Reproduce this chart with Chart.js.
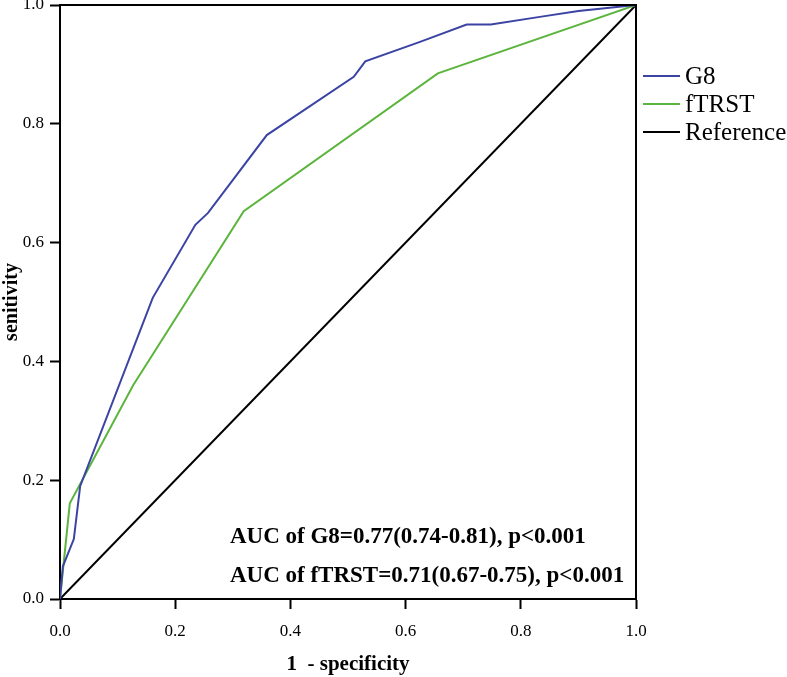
<!DOCTYPE html>
<html>
<head>
<meta charset="utf-8">
<script src="https://cdn.jsdelivr.net/npm/chart.js@4.4.0/dist/chart.umd.min.js"></script>
<style>
  html, body { margin: 0; padding: 0; background: #fff; }
  #wrap { width: 787px; height: 677px; }
</style>
</head>
<body>
<div id="wrap"><canvas id="roc" width="787" height="677"></canvas></div>
<script>
// ROC points (1 - specificity, sensitivity)
const g8X = [0, 0.005, 0.024, 0.035, 0.161, 0.235, 0.257, 0.359, 0.51, 0.53, 0.625, 0.706, 0.748, 0.833, 0.9, 1];
const g8Y = [0, 0.055, 0.101, 0.19, 0.507, 0.63, 0.65, 0.781, 0.879, 0.905, 0.938, 0.967, 0.967, 0.98, 0.99, 1];
const ftrstX = [0, 0.017, 0.127, 0.319, 0.656, 1];
const ftrstY = [0, 0.161, 0.36, 0.653, 0.885, 1];
const refX = [0, 1];
const refY = [0, 1];
const tickVals = [0, 0.2, 0.4, 0.6, 0.8, 1.0];
const seriesNames = ['G8', 'fTRST', 'Reference'];
const aucLines = ['AUC of G8=0.77(0.74-0.81), p<0.001', 'AUC of fTRST=0.71(0.67-0.75), p<0.001'];

const serif = "'Liberation Serif', 'Times New Roman', serif";
const pts = (xs, ys) => xs.map((x, i) => ({ x: x, y: ys[i] }));

// frame on top/right, legend and AUC text
const extras = {
  id: 'extras',
  afterDraw(chart) {
    const c = chart.ctx, a = chart.chartArea;
    c.save();
    c.strokeStyle = '#000';
    c.lineWidth = 2;
    c.beginPath();
    c.moveTo(a.left, a.top);
    c.lineTo(a.right, a.top);
    c.lineTo(a.right, a.bottom);
    c.stroke();

    // legend
    c.font = '25px ' + serif;
    c.textBaseline = 'middle';
    c.textAlign = 'left';
    chart.data.datasets.forEach((ds, i) => {
      const y = a.top + 71 + i * 28;
      c.strokeStyle = ds.borderColor;
      c.lineWidth = 2;
      c.beginPath();
      c.moveTo(a.right + 7, y);
      c.lineTo(a.right + 44, y);
      c.stroke();
      c.fillStyle = '#000';
      c.fillText(ds.label, a.right + 49, y + 1);
    });

    // AUC annotation
    const xs = chart.scales.x, ys = chart.scales.y;
    c.font = 'bold 23px ' + serif;
    c.fillStyle = '#000';
    c.fillText(aucLines[0], xs.getPixelForValue(0.295), ys.getPixelForValue(0.104));
    c.fillText(aucLines[1], xs.getPixelForValue(0.295), ys.getPixelForValue(0.039));
    c.restore();
  }
};

new Chart(document.getElementById('roc'), {
  type: 'line',
  data: {
    datasets: [
      { label: seriesNames[0], data: pts(g8X, g8Y), borderColor: '#3b44a3', borderWidth: 2, pointRadius: 0, tension: 0 },
      { label: seriesNames[1], data: pts(ftrstX, ftrstY), borderColor: '#5bb53d', borderWidth: 2, pointRadius: 0, tension: 0 },
      { label: seriesNames[2], data: pts(refX, refY), borderColor: '#000000', borderWidth: 2, pointRadius: 0, tension: 0 }
    ]
  },
  options: {
    responsive: false,
    animation: false,
    layout: { padding: { top: 5, right: 151, left: 0, bottom: 0 } },
    plugins: { legend: { display: false }, tooltip: { enabled: false } },
    scales: {
      x: {
        type: 'linear', min: 0, max: 1,
        afterBuildTicks: s => { s.ticks = tickVals.map(v => ({ value: v })); },
        afterFit: s => { s.height = 78; s.paddingLeft = 0; s.paddingRight = 0; },
        grid: { drawOnChartArea: false, drawTicks: true, tickLength: 10, tickColor: '#000', tickWidth: 2 },
        border: { color: '#000', width: 2 },
        ticks: { color: '#000', font: { family: serif, size: 17 }, padding: 12, callback: v => v.toFixed(1), maxRotation: 0 },
        title: { display: true, text: '1  - specificity', color: '#000', font: { family: serif, size: 21, weight: 'bold' }, padding: { top: 0, bottom: 0 } }
      },
      y: {
        type: 'linear', min: 0, max: 1,
        afterBuildTicks: s => { s.ticks = tickVals.map(v => ({ value: v })); },
        afterFit: s => { s.width = 60; s.paddingTop = 0; s.paddingBottom = 0; },
        grid: { drawOnChartArea: false, drawTicks: true, tickLength: 10, tickColor: '#000', tickWidth: 2 },
        border: { color: '#000', width: 2 },
        ticks: { color: '#000', font: { family: serif, size: 17 }, padding: 6, callback: v => v.toFixed(1) },
        title: { display: true, text: 'senitivity', color: '#000', font: { family: serif, size: 20, weight: 'bold' }, padding: { top: 0, bottom: 0 } }
      }
    }
  },
  plugins: [extras]
});
</script>
</body>
</html>
